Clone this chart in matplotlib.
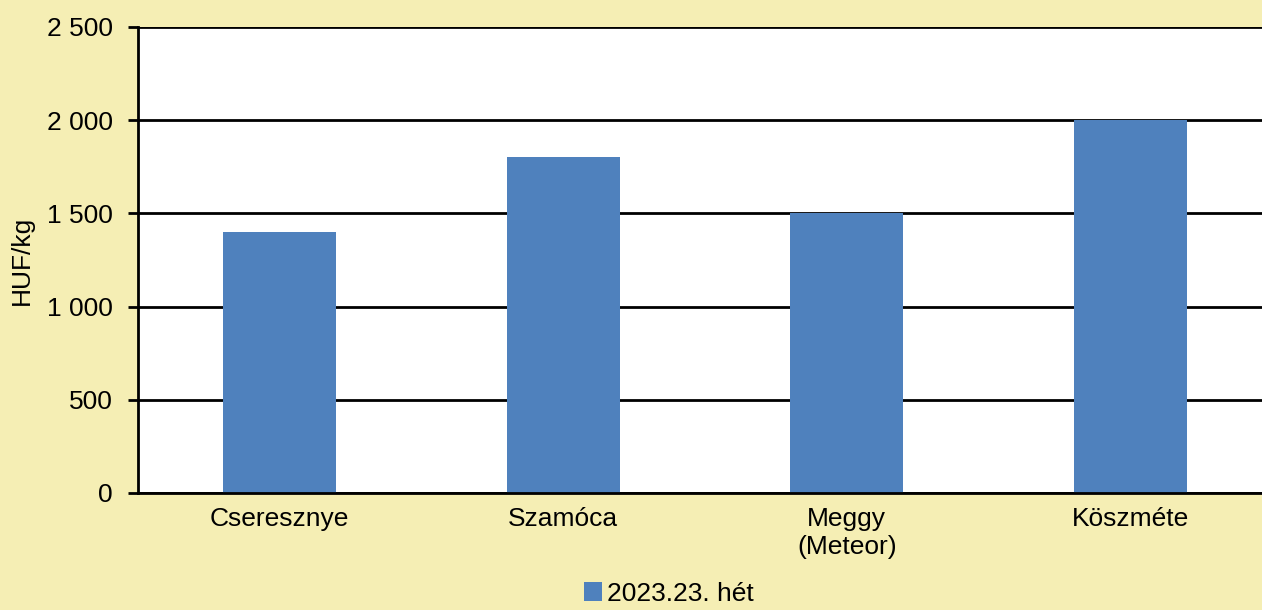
import numpy as np
import matplotlib.pyplot as plt
from matplotlib.ticker import FuncFormatter

plt.rcParams['font.family'] = ['Liberation Sans', 'DejaVu Sans']

categories = ['Cseresznye', 'Szamóca', 'Meggy\n(Meteor)', 'Köszméte']
prices = [1400, 1800, 1500, 2000]
series_name = '2023.23. hét'

bg = '#F5EEB4'
blue = '#4F81BD'

fig = plt.figure(figsize=(12.62, 6.10), dpi=100, facecolor=bg)
ax = fig.add_axes([138 / 1262, 1 - 493 / 610, 1134 / 1262, 466 / 610])
ax.set_facecolor('white')

x = np.arange(len(categories))
ax.bar(x, prices, width=0.4, color=blue, label=series_name, zorder=3)

ax.set_xlim(-0.5, 3.5)
ax.set_ylim(0, 2500)
ax.set_yticks(np.arange(0, 2501, 500))
ax.yaxis.set_major_formatter(FuncFormatter(lambda v, p: f'{int(v):,}'.replace(',', ' ')))
ax.grid(axis='y', color='black', linewidth=2, zorder=1)
ax.set_xticks(x)
ax.set_xticklabels(categories)

for s in ['top', 'right']:
    ax.spines[s].set_visible(False)
for s in ['left', 'bottom']:
    ax.spines[s].set_linewidth(2)
    ax.spines[s].set_zorder(4)

ax.tick_params(axis='y', length=7, width=2, pad=11, labelsize=19)
ax.tick_params(axis='x', length=0, pad=10, labelsize=19)
ax.set_ylabel('HUF/kg', fontsize=19)
ax.yaxis.set_label_coords(-104 / 1134, 0.5)

fig.legend(loc='lower center', bbox_to_anchor=(0.53, -0.032), frameon=False,
           fontsize=19, handlelength=0.7, handleheight=0.7, handletextpad=0.2)

fig.savefig('out.png', dpi=100, facecolor=bg)
